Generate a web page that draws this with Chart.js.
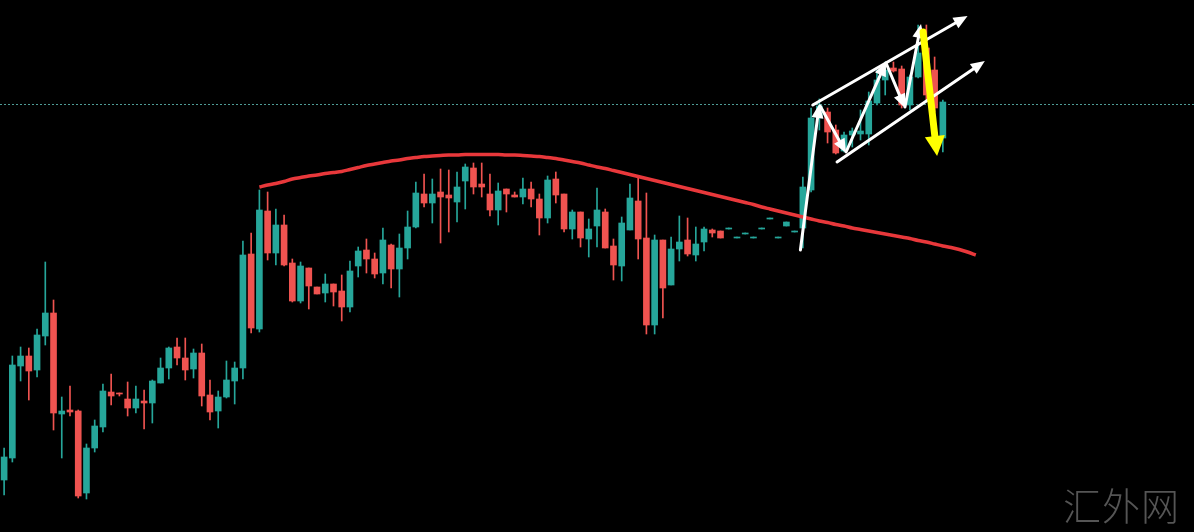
<!DOCTYPE html>
<html>
<head>
<meta charset="utf-8">
<script src="https://cdn.jsdelivr.net/npm/chart.js@4.4.1/dist/chart.umd.min.js"></script>
<style>
  html, body { margin: 0; padding: 0; background: #000; overflow: hidden; }
  #wrap { position: relative; width: 1194px; height: 532px; background: #000; }
  #mark { position: absolute; left: 1063px; top: 476px; font-family: "Noto Sans CJK SC", sans-serif; font-weight: 300; font-size: 38px; color: #555555; letter-spacing: 1px; white-space: nowrap; }
</style>
</head>
<body>
<div id="wrap">
  <canvas id="c" width="1194" height="532"></canvas>
  <div id="mark">汇外网</div>
</div>
<script>
// ---- data (price units, arbitrary scale) ----
const slotCount = 145; // bar slots across the visible window
const opens  = [52,74,166,176,162,196,219,118,122,121,39,84,105,140,139,133,124,131,129,149,164,185,174,163,179,137,121,135,151,164,278,203,321,279,307,269,231,264,245,239,248,241,225,266,282,273,259,287,263,284,305,338,329,340,337,330,351,364,348,338,322,343,337,335,343,333,314,353,338,303,320,293,306,320,286,266,302,331,294,207,292,247,283,292,277,290,302,301,303,294,298,294,303,313,294,306,300,304,342,414,420,402,381,397,398,398,429,452,464,463,427,455,484,462,394];
const highs  = [84,176,185,184,203,270,232,135,146,122,88,112,148,158,139,150,146,142,152,174,185,194,194,183,188,152,141,171,170,291,299,342,340,323,317,273,270,264,245,258,248,257,271,285,293,279,304,288,298,321,350,358,353,363,362,360,368,369,369,358,349,343,340,354,350,338,356,360,338,322,320,313,344,323,293,315,348,356,339,297,292,295,316,314,305,305,303,301,304,295,299,295,304,314,295,310,301,355,424,433,424,407,400,404,422,440,462,470,470,466,457,507,507,475,432];
const lows   = [37,70,151,132,155,187,102,74,116,34,33,80,100,127,136,116,119,103,109,149,153,167,152,154,126,112,104,134,128,153,199,200,272,267,266,230,229,223,238,230,226,211,220,255,259,254,248,244,235,273,304,325,309,289,300,310,323,338,335,316,307,320,335,328,325,297,309,329,300,293,285,275,285,284,252,251,302,273,198,198,214,247,271,276,271,281,295,294,303,294,298,294,303,313,294,306,300,284,340,402,389,378,380,385,392,387,427,437,460,424,422,454,432,420,380];
const closes = [75,167,176,161,197,219,119,121,120,36,84,106,141,136,138,124,133,129,151,164,184,174,162,179,136,120,135,152,164,277,204,322,279,307,267,231,266,246,238,248,240,225,261,281,273,258,292,263,284,305,339,329,338,335,334,345,365,345,345,322,341,338,335,343,333,314,352,337,303,320,294,303,322,284,267,309,334,293,207,292,244,283,290,278,288,303,299,294,304,295,299,295,304,314,295,310,301,345,414,426,400,379,397,401,401,431,452,462,461,427,455,479,437,424,430];
// moving average, shifted forward, starting at bar 31
const maStart = 31;
const maValues = [345,347,348.5,350.5,353,354.5,356,357,358.5,359.5,360.5,362.5,364.5,366.5,368,369.5,371,372,373.5,374.5,375.5,376,376.5,377,377,377.5,377.5,377.5,377.5,377.5,377,377,376.5,376,375.5,374.5,373.5,372,370.5,369,367,365,363.5,361.5,359.5,357.5,355.5,353.5,351.5,349.5,347.5,345.5,343.5,341.5,339.5,337.5,335.5,333.5,331.5,329.5,327.5,325,323,321,319,317,315,313,311,309.5,307.5,306,304,302.5,301,299.5,298,296.5,295,293.5,291.5,290,288,286,284.5,282.5,280,277];
// current price level (dotted line)
const priceLevel = 428;
// hand-drawn annotation arrows: [fromBar, fromPrice, toBar, toPrice]
const whiteArrows = [
  [96.7, 282, 99.0, 428],
  [99.1, 426, 102.25, 379],
  [102.25, 380, 107.1, 470],
  [107.1, 469, 109.4, 424],
  [109.4, 425, 111.35, 508],
  [98.2, 427, 117.0, 516],
  [101.15, 370, 119.1, 471]
];
const yellowArrow = [111.6, 500, 113.3, 376];

// ---- build chart ----
const labels = Array.from({length: slotCount}, (_, i) => String(i));
const TEAL = '#26a69a', RED = '#ef5350';
const bodies = opens.map((o, i) => [o, closes[i]]);
const wicks = lows.map((l, i) => [l, highs[i]]);
const colors = opens.map((o, i) => closes[i] >= o ? TEAL : RED);
const maData = labels.map((_, i) => (i >= maStart && i - maStart < maValues.length) ? maValues[i - maStart] : null);

function arrow(ctx, x0, y0, x1, y1, color, lw, headLen, headW) {
  const ang = Math.atan2(y1 - y0, x1 - x0);
  const bx = x1 - headLen * Math.cos(ang), by = y1 - headLen * Math.sin(ang);
  ctx.save();
  ctx.strokeStyle = color; ctx.fillStyle = color;
  ctx.lineWidth = lw; ctx.lineCap = 'round';
  ctx.beginPath(); ctx.moveTo(x0, y0); ctx.lineTo(bx, by); ctx.stroke();
  ctx.beginPath();
  ctx.moveTo(x1, y1);
  ctx.lineTo(bx + headW / 2 * Math.sin(ang), by - headW / 2 * Math.cos(ang));
  ctx.lineTo(bx - headW / 2 * Math.sin(ang), by + headW / 2 * Math.cos(ang));
  ctx.closePath(); ctx.fill();
  ctx.restore();
}

const overlay = {
  id: 'overlay',
  beforeDatasetsDraw(chart) {
    const {ctx, chartArea, scales: {y}} = chart;
    const py = Math.round(y.getPixelForValue(priceLevel)) + 0.5;
    ctx.save();
    ctx.strokeStyle = '#4f9c96'; ctx.lineWidth = 1; ctx.setLineDash([2, 2]);
    ctx.beginPath(); ctx.moveTo(chartArea.left, py); ctx.lineTo(chartArea.right, py); ctx.stroke();
    ctx.restore();
  },
  afterDatasetsDraw(chart) {
    const {ctx, scales: {x, y}} = chart;
    whiteArrows.forEach(a => arrow(ctx, x.getPixelForValue(a[0]), y.getPixelForValue(a[1]), x.getPixelForValue(a[2]), y.getPixelForValue(a[3]), '#ffffff', 3, 14, 12));
    const a = yellowArrow;
    arrow(ctx, x.getPixelForValue(a[0]), y.getPixelForValue(a[1]), x.getPixelForValue(a[2]), y.getPixelForValue(a[3]), '#ffff00', 7, 20, 20);
  }
};

new Chart(document.getElementById('c'), {
  type: 'bar',
  data: {
    labels,
    datasets: [
      { type: 'line', data: maData, borderColor: '#e8383b', borderWidth: 3.5, pointRadius: 0, tension: 0.3, spanGaps: false, order: 0 },
      { data: bodies, backgroundColor: colors, barThickness: 6, grouped: false, order: 1 },
      { data: wicks, backgroundColor: colors, barThickness: 1, grouped: false, order: 2 }
    ]
  },
  options: {
    responsive: false,
    animation: false,
    layout: { padding: 0 },
    plugins: { legend: { display: false }, tooltip: { enabled: false } },
    scales: {
      x: { display: false, offset: true },
      y: { display: false, min: 0, max: 532 }
    }
  },
  plugins: [overlay]
});
</script>
</body>
</html>
